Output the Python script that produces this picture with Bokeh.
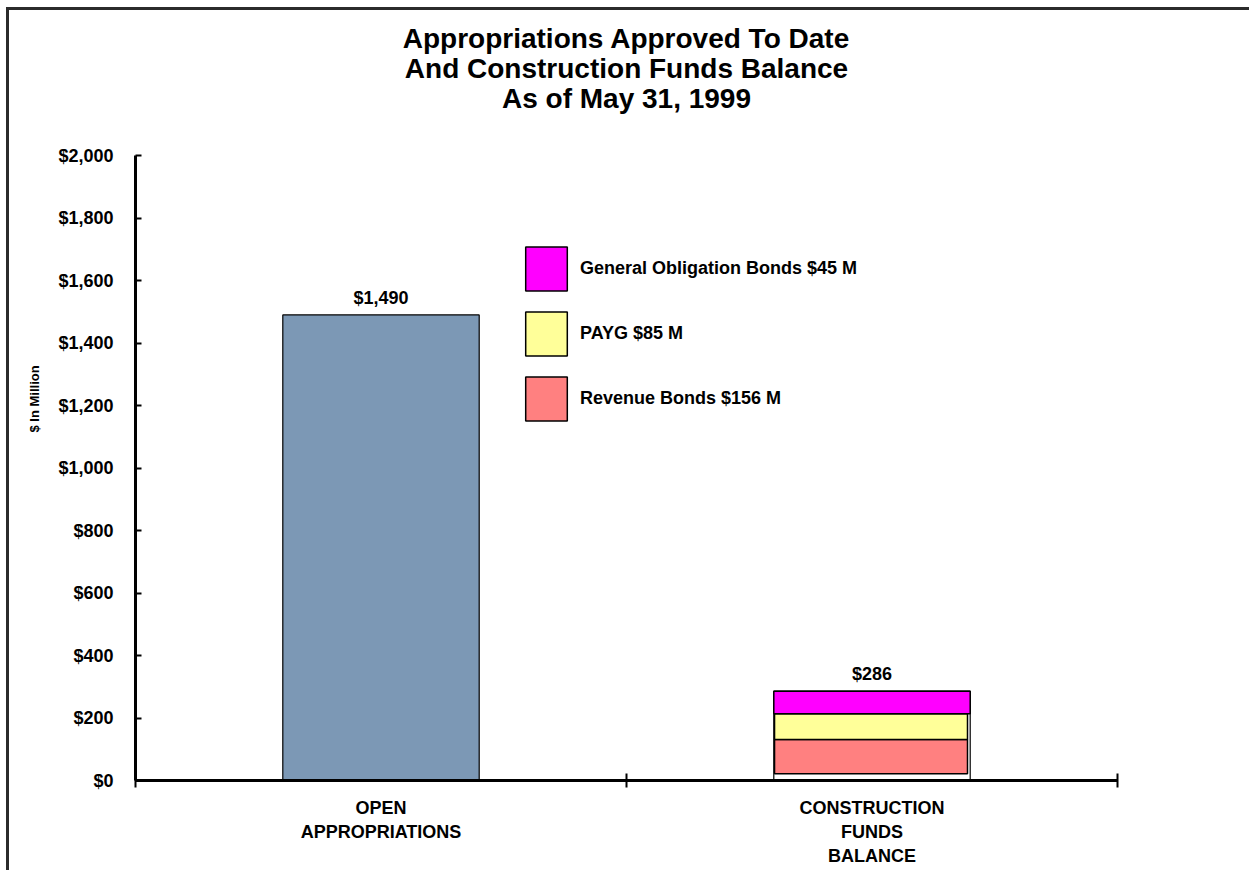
from bokeh.plotting import figure
from bokeh.models import (Range1d, FixedTicker, NumeralTickFormatter, Legend, LegendItem,
                          ColumnDataSource, Title)
from bokeh.core.properties import value
from bokeh.embed import file_html
from bokeh.resources import INLINE

# ---- data ----
title_lines = ["Appropriations Approved To Date", "And Construction Funds Balance", "As of May 31, 1999"]
y_axis_title = "$ In Million"
categories = ["OPEN\nAPPROPRIATIONS", "CONSTRUCTION\nFUNDS\nBALANCE"]
totals = [1490, 286]
total_labels = ["$1,490", "$286"]
segment_names = ["Revenue Bonds $156 M", "PAYG $85 M", "General Obligation Bonds $45 M"]
segment_bottoms = [22, 131, 214]
segment_tops = [131, 214, 286]
y_ticks = [0, 200, 400, 600, 800, 1000, 1200, 1400, 1600, 1800, 2000]

FONT = "Liberation Sans"
xs = [i + 0.5 for i in range(len(categories))]

p = figure(width=1243, height=863, x_range=Range1d(0, len(categories)), y_range=Range1d(0, 2000),
           output_backend="svg", toolbar_location=None,
           min_border_left=126, min_border_right=135, min_border_top=145, min_border_bottom=93)
p.styles = {"margin-left": "6px", "margin-top": "7px",
            "border-left": "3px solid #2b2b2b", "border-top": "3px solid #2b2b2b"}
p.outline_line_color = None
p.xgrid.grid_line_color = None
p.ygrid.grid_line_color = None
p.background_fill_color = "white"
p.border_fill_color = "white"

# title: spacer next to the frame, then three centered lines (later = farther out)
p.add_layout(Title(text=" ", text_font_size="10px", standoff=30), "above")
for i in [2, 1, 0]:
    p.add_layout(Title(text=title_lines[i], align="center", text_font=FONT, text_font_size="28px",
                       text_font_style="bold", text_color="black", standoff=-3), "above")

# y axis title (left side panel, shifted up from the frame bottom)
p.add_layout(Title(text=y_axis_title, align="left", offset=348, standoff=28, text_font=FONT,
                   text_font_size="13px", text_font_style="bold", text_color="black"), "left")

# bars
p.vbar(x=[xs[0]], top=[totals[0]], width=0.4, fill_color="#7C98B5", line_color="black", line_width=1.2)
p.vbar(x=[xs[1]], top=[totals[1]], bottom=[0], width=0.4, fill_color="white", line_color="black", line_width=1.2)

seg_colors = ["#FF8080", "#FFFF99", "#FF00FF"]
seg_widths = [0.393, 0.393, 0.4]
seg_shift = [-0.002, -0.002, 0.0]
renderers = []
for i in range(3):
    r = p.vbar(x=[xs[1] + seg_shift[i]], bottom=[segment_bottoms[i]], top=[segment_tops[i]],
               width=seg_widths[i], fill_color=seg_colors[i], line_color="black", line_width=1.5)
    renderers.append(r)

# value labels
src = ColumnDataSource(dict(x=xs, y=totals, t=total_labels))
p.text(x="x", y="y", text="t", source=src, text_align="center", text_baseline="bottom",
       y_offset=-7, text_font=value(FONT), text_font_size="18px", text_font_style="bold",
       text_color="black")

# legend
items = [LegendItem(label=segment_names[i], renderers=[renderers[i]]) for i in [2, 1, 0]]
legend = Legend(items=items, location=(385, 354), glyph_width=52, glyph_height=55, spacing=10,
                label_standoff=8, padding=0, margin=0, border_line_alpha=0, background_fill_alpha=0,
                label_text_font=FONT, label_text_font_size="18px", label_text_font_style="bold",
                label_text_color="black", label_height=55)
p.add_layout(legend, "center")

# y axis
ya = p.yaxis[0]
ya.ticker = FixedTicker(ticks=y_ticks)
ya.formatter = NumeralTickFormatter(format="$0,0")
ya.axis_line_width = 3
ya.axis_line_color = "black"
ya.major_tick_in = 6
ya.major_tick_out = 0
ya.major_tick_line_width = 2
ya.minor_tick_line_color = None
ya.major_label_standoff = 22
ya.major_label_text_font = FONT
ya.major_label_text_font_size = "18px"
ya.major_label_text_font_style = "bold"
ya.major_label_text_color = "black"

# x axis
xa = p.xaxis[0]
xa.ticker = FixedTicker(ticks=xs, minor_ticks=list(range(len(categories) + 1)))
xa.major_label_overrides = {xs[i]: categories[i] for i in range(len(categories))}
xa.axis_line_width = 3
xa.axis_line_color = "black"
xa.major_tick_in = 0
xa.major_tick_out = 0
xa.minor_tick_in = 7
xa.minor_tick_out = 7
xa.minor_tick_line_width = 2
xa.minor_tick_line_color = "black"
xa.major_label_standoff = 10
xa.major_label_text_font = FONT
xa.major_label_text_font_size = "18px"
xa.major_label_text_font_style = "bold"
xa.major_label_text_color = "black"
xa.major_label_text_line_height = 1.2

open("out.html", "w").write(file_html(p, INLINE))
